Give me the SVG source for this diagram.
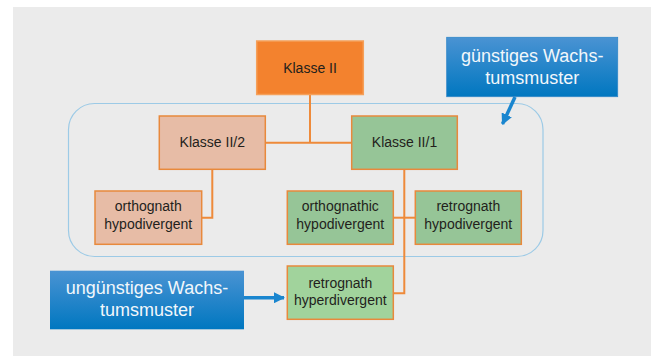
<svg xmlns="http://www.w3.org/2000/svg" width="651" height="356" viewBox="0 0 651 356">
<defs>
<style>
.bg{fill:#ebebeb}
.node{stroke:#e8893c;stroke-width:1.5}
.orange{fill:#f3822e}
.salmon{fill:#e7bca6}
.green{fill:#96c597}
.lgreen{fill:#a1d39c}
.t{font-family:"Liberation Sans",Arial,sans-serif;font-size:14px;fill:#231f1c;text-anchor:middle}
.bt{font-family:"Liberation Sans",Arial,sans-serif;font-size:18px;fill:#f2f7fb;text-anchor:middle}
.conn{stroke:#ee8a3a;stroke-width:2;fill:none}
.arrow{stroke:#1a86cf;stroke-width:3.5;fill:none}
</style>
<linearGradient id="blue" x1="0" y1="0" x2="0" y2="1">
<stop offset="0" stop-color="#4a93d3"/>
<stop offset="1" stop-color="#0077c0"/>
</linearGradient>
<marker id="ah" viewBox="0 0 10 10" refX="9" refY="5" markerWidth="3.2" markerHeight="3.2" orient="auto" markerUnits="strokeWidth">
<path d="M0,0 L10,5 L0,10 Z" fill="#1a86cf"/>
</marker>
</defs>
<rect class="bg" x="13" y="7" width="638" height="349"/>
<rect id="gruppe" x="68.5" y="103.5" width="474.5" height="153" rx="26" ry="26" fill="none" stroke="#9ccae6" stroke-width="1.2"/>
<g id="connectors">
<path class="conn" d="M310,95 V142.7 M265.3,142.7 H351.7"/>
<path class="conn" d="M212.3,169.3 V217.7 H201.7"/>
<path class="conn" d="M404.3,169.3 V293.3 H393.3"/>
<path class="conn" d="M393.3,217.7 H415.3"/>
<path class="arrow" marker-end="url(#ah)" d="M515,97 L502.5,124"/>
<path class="arrow" marker-end="url(#ah)" d="M244,297.7 L284,297.7"/>
</g>
<g id="klasse2">
<rect class="node orange" x="256.7" y="41" width="106.6" height="53.5" style="stroke:#f5a05a"/>
<text class="t" x="310" y="72.5">Klasse II</text>
</g>
<g id="klasse2_2">
<rect class="node salmon" x="159.3" y="116" width="106" height="53.3"/>
<text class="t" x="212.3" y="147">Klasse II/2</text>
</g>
<g id="klasse2_1">
<rect class="node green" x="351.7" y="116" width="105.6" height="53.3"/>
<text class="t" x="404.5" y="147">Klasse II/1</text>
</g>
<g id="ortho_hypo">
<rect class="node salmon" x="95" y="191" width="106.7" height="53.3"/>
<text class="t" x="148.3" y="211">orthognath</text>
<text class="t" x="148.3" y="229">hypodivergent</text>
</g>
<g id="orthognathic_hypo">
<rect class="node green" x="287.3" y="191" width="106" height="53.3"/>
<text class="t" x="340.3" y="211">orthognathic</text>
<text class="t" x="340.3" y="229">hypodivergent</text>
</g>
<g id="retro_hypo">
<rect class="node green" x="415.3" y="191" width="106" height="53.3"/>
<text class="t" x="468.3" y="211">retrognath</text>
<text class="t" x="468.3" y="229">hypodivergent</text>
</g>
<g id="retro_hyper">
<rect class="node lgreen" x="287.3" y="266" width="106" height="53.3"/>
<text class="t" x="340.3" y="287.5">retrognath</text>
<text class="t" x="340.3" y="305">hyperdivergent</text>
</g>
<g id="guenstig">
<rect x="446.7" y="37.3" width="171" height="59.4" fill="url(#blue)" stroke="#2f86c8" stroke-width="0.8"/>
<text class="bt" x="532.2" y="62">günstiges Wachs-</text>
<text class="bt" x="532.2" y="83.5">tumsmuster</text>
</g>
<g id="unguenstig">
<rect x="50" y="270.7" width="194" height="58.6" fill="url(#blue)"/>
<text class="bt" x="147" y="293.5">ungünstiges Wachs-</text>
<text class="bt" x="147" y="315.5">tumsmuster</text>
</g>
</svg>
